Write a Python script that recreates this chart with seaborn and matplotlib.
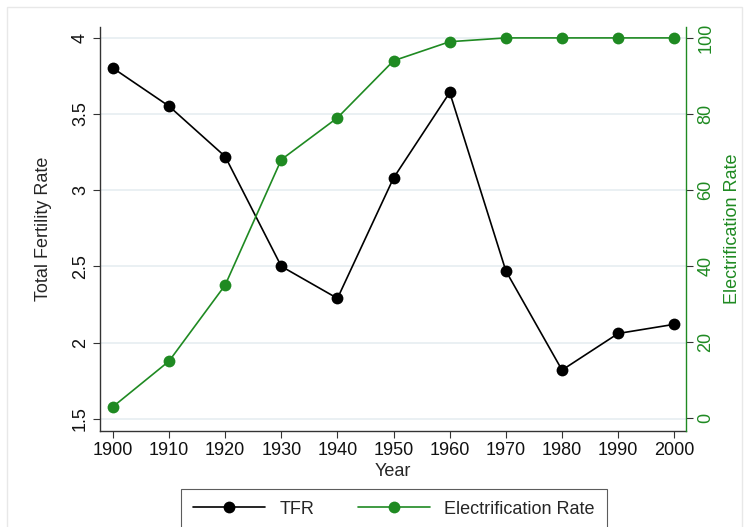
import numpy as np
import pandas as pd
import matplotlib
matplotlib.use('Agg')
import matplotlib.pyplot as plt
import seaborn as sns

# values
years = [1900, 1910, 1920, 1930, 1940, 1950, 1960, 1970, 1980, 1990, 2000]
tfr = [3.80, 3.55, 3.22, 2.50, 2.29, 3.08, 3.64, 2.47, 1.82, 2.06, 2.12]
electrification = [3, 15, 35, 68, 79, 94, 99, 100, 100, 100, 100]

df = pd.DataFrame({'Year': years, 'TFR': tfr, 'Electrification Rate': electrification})

sns.set_theme(style='white')
plt.rcParams['font.family'] = ['Liberation Sans', 'DejaVu Sans']

green = '#1f8a22'
grid_col = '#e6eef1'
fs = 13

fig = plt.figure(figsize=(7.49, 5.27), dpi=100)
ax = fig.add_axes([0.1335, 0.182, 0.7825, 0.767])
ax2 = ax.twinx()

sns.lineplot(data=df, x='Year', y='TFR', ax=ax, color='black', marker='o',
             markersize=8.5, markeredgewidth=0, linewidth=1.2, label='TFR', legend=False)
sns.lineplot(data=df, x='Year', y='Electrification Rate', ax=ax2, color=green, marker='o',
             markersize=8.5, markeredgewidth=0, linewidth=1.2, label='Electrification Rate',
             legend=False)

ax.set_xlim(1897.7, 2002.1)
ax.set_ylim(1.42, 4.07)
ax2.set_ylim(-3.4, 102.9)

ax.set_xticks(years)
ax.set_yticks([1.5, 2, 2.5, 3, 3.5, 4])
ax.set_yticklabels(['1.5', '2', '2.5', '3', '3.5', '4'], rotation=90, va='center')
ax2.set_yticks([0, 20, 40, 60, 80, 100])
ax2.set_yticklabels(['0', '20', '40', '60', '80', '100'], rotation=90, va='center', color=green)

for y in [1.5, 2, 2.5, 3, 3.5, 4]:
    ax.axhline(y, color=grid_col, linewidth=1.2, zorder=0)

ax.set_xlabel('Year', fontsize=fs, labelpad=3)
ax.set_ylabel('Total Fertility Rate', fontsize=fs, labelpad=14)
ax2.set_ylabel('Electrification Rate', fontsize=fs, color=green, labelpad=7)

ax.tick_params(axis='both', labelsize=fs, length=5, width=0.8, color='#333333',
               bottom=True, left=True, direction='out', pad=3, labelcolor='#111111')
ax2.tick_params(axis='y', labelsize=fs, length=5, width=0.8, color='#333333',
                right=True, direction='out', pad=3)

ax.spines['top'].set_visible(False)
ax2.spines['top'].set_visible(False)
ax.spines['right'].set_visible(False)
ax2.spines['left'].set_visible(False)
ax2.spines['bottom'].set_visible(False)
ax.spines['left'].set_color('#333333')
ax.spines['bottom'].set_color('#333333')
ax.spines['left'].set_linewidth(1.0)
ax.spines['bottom'].set_linewidth(1.0)
ax2.spines['right'].set_color(green)
ax2.spines['right'].set_linewidth(1.0)

h1, l1 = ax.get_legend_handles_labels()
h2, l2 = ax2.get_legend_handles_labels()
leg = fig.legend(h1 + h2, l1 + l2, loc='upper center', bbox_to_anchor=(0.526, 0.072),
                 ncol=2, fontsize=fs, frameon=True, fancybox=False, edgecolor='#333333',
                 handlelength=4.0, handletextpad=0.8, columnspacing=2.4,
                 borderpad=0.65, borderaxespad=0)
leg.get_frame().set_linewidth(0.8)

# faint outer frame
fig.patches.append(plt.Rectangle((0.01, -0.02), 0.98, 1.007, transform=fig.transFigure,
                                 fill=False, edgecolor='#e8e8e8', linewidth=1))

fig.savefig('out.png', dpi=100)
